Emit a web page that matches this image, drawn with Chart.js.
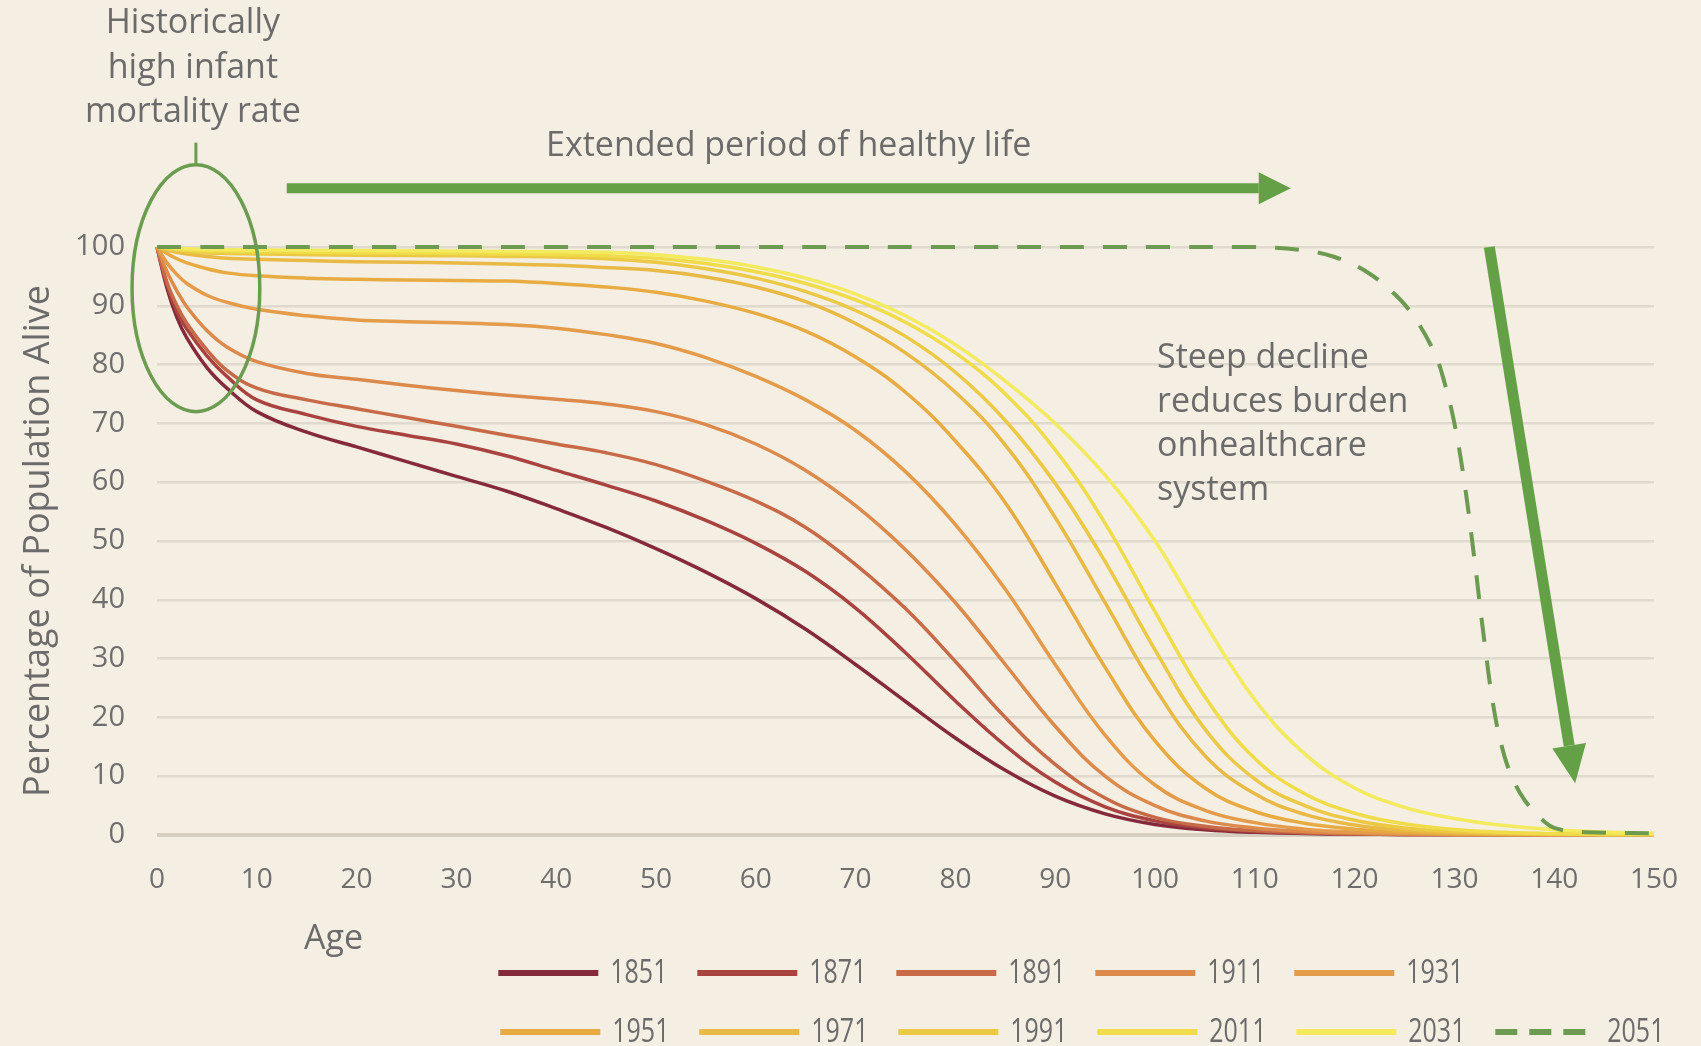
<!DOCTYPE html>
<html>
<head>
<meta charset="utf-8">
<script src="https://cdn.jsdelivr.net/npm/chart.js@4.4.1/dist/chart.umd.min.js"></script>
<style>
  html, body { margin: 0; padding: 0; background: #f4eee3; }
  #wrap { width: 1701px; height: 1046px; }
</style>
</head>
<body>
<div id="wrap"><canvas id="chart" width="1701" height="1046"></canvas></div>
<script>
// ages shared by the historic cohorts
const ages = [0, 1, 2, 3, 5, 7, 10, 15, 20, 25, 30, 35, 40, 45, 50, 55, 60, 65, 70, 75,
  80, 85, 90, 95, 100, 105, 110, 115, 120, 125, 130, 135, 140, 145, 150];

const years = ['1851', '1871', '1891', '1911', '1931', '1951', '1971', '1991', '2011', '2031', '2051'];

// percentage of population alive, per cohort
const s1851 = [100, 93, 88, 84.5, 79.5, 76, 72, 68.5, 66, 63.5, 61, 58.5, 55.5, 52.3, 48.7, 44.7, 40.2, 35, 29, 22.7,
  16.5, 11, 6.6, 3.6, 1.8, 0.9, 0.45, 0.25, 0.15, 0.1, 0.1, 0.1, 0.1, 0.1, 0.1];
const s1871 = [100, 93.5, 89, 86, 81.5, 78, 74, 71.5, 69.5, 68, 66.5, 64.5, 62, 59.5, 56.8, 53.5, 49.6, 44.8, 38.6, 31,
  22.8, 15.2, 9, 4.8, 2.4, 1.2, 0.6, 0.35, 0.2, 0.1, 0.1, 0.1, 0.1, 0.1, 0.1];
const s1891 = [100, 94, 90, 87, 82.5, 79, 76, 74, 72.5, 71, 69.5, 68, 66.5, 65, 63, 60.2, 56.8, 52.3, 46, 38.5,
  29.5, 20, 12, 6.3, 3, 1.5, 0.75, 0.4, 0.2, 0.1, 0.1, 0.1, 0.1, 0.1, 0.1];
const s1911 = [100, 95.8, 92.5, 89.8, 85.8, 83, 80.5, 78.5, 77.5, 76.5, 75.6, 74.8, 74.1, 73.3, 72, 69.8, 66.5, 62, 56, 48.5,
  39.5, 29, 18.5, 10, 5, 2.4, 1.2, 0.6, 0.3, 0.15, 0.1, 0.1, 0.1, 0.1, 0.1];
const s1931 = [100, 97.3, 95.3, 93.8, 91.8, 90.6, 89.4, 88.3, 87.6, 87.3, 87.1, 86.8, 86.2, 85.1, 83.6, 81.2, 78, 74, 68.8, 61.8,
  52.8, 41.8, 29, 17, 8.5, 4.2, 2.1, 1, 0.5, 0.25, 0.1, 0.1, 0.1, 0.1, 0.1];
const s1951 = [100, 98.9, 98, 97.3, 96.3, 95.6, 95.1, 94.7, 94.5, 94.4, 94.3, 94.2, 93.8, 93.2, 92.3, 90.8, 88.7, 85.7, 81.3, 75.3,
  67, 56.5, 42.8, 28.5, 16, 8, 4, 2, 1, 0.5, 0.25, 0.1, 0.1, 0.1, 0.1];
const s1971 = [100, 99.5, 99.1, 98.8, 98.4, 98.1, 97.9, 97.7, 97.5, 97.4, 97.3, 97.1, 96.9, 96.5, 96, 94.9, 93.2, 90.7, 87, 82,
  75.3, 66.3, 54, 39.5, 25, 13.5, 7, 3.5, 1.7, 0.8, 0.4, 0.2, 0.1, 0.1, 0.1];
const s1991 = [100, 99.7, 99.4, 99.2, 99, 98.9, 98.8, 98.7, 98.6, 98.55, 98.5, 98.4, 98.3, 98, 97.4, 96.3, 94.7, 92.4, 89.2, 84.8,
  78.7, 70.5, 59.8, 46.5, 31.5, 18, 9.5, 5, 2.5, 1.2, 0.6, 0.3, 0.15, 0.1, 0.1];
const s2011 = [100, 99.8, 99.6, 99.5, 99.3, 99.25, 99.2, 99.1, 99, 98.95, 98.9, 98.8, 98.7, 98.5, 98.1, 97.2, 95.8, 93.8, 91, 87.2,
  82, 75, 65.5, 53, 38, 23.5, 13, 7, 3.7, 1.9, 0.95, 0.45, 0.2, 0.1, 0.1];
const s2031 = [100, 99.9, 99.8, 99.7, 99.6, 99.55, 99.5, 99.45, 99.4, 99.35, 99.3, 99.25, 99.2, 99.1, 98.7, 97.9, 96.6, 94.7, 92, 88.3,
  83.4, 77.2, 70, 61.2, 50, 36, 23, 13.8, 8, 4.7, 2.8, 1.6, 0.9, 0.5, 0.3];

// projected 2051 cohort has its own age points (steep late drop)
const ages2051 = [0, 20, 40, 60, 80, 100, 110, 115, 118, 121, 124, 126, 128, 129, 130, 131, 132, 133, 134, 135,
  136, 137, 138, 139, 140, 142, 145, 150];
const s2051 = [100, 100, 100, 100, 100, 100, 100, 99.4, 98.3, 96, 92, 88, 82, 77, 70, 60, 47, 33, 21, 13.5,
  9, 6, 4, 2.3, 1.2, 0.6, 0.4, 0.3];

const yTicks = [0, 10, 20, 30, 40, 50, 60, 70, 80, 90, 100];
const xTicks = [0, 10, 20, 30, 40, 50, 60, 70, 80, 90, 100, 110, 120, 130, 140, 150];

const lineColors = ['#852a3a', '#a8433f', '#c66a48', '#dc894c', '#e49b4a', '#e8ab42',
  '#e8b944', '#ecc944', '#f0dc48', '#f3ea5e'];
const green = '#64a046';
const textGrey = '#6b6b6b';
const bg = '#f4eee3';
const FONT = "'Open Sans', 'DejaVu Sans', sans-serif";

const cohorts = [s1851, s1871, s1891, s1911, s1931, s1951, s1971, s1991, s2011, s2031];

const datasets = cohorts.map((vals, i) => ({
  label: years[i],
  data: ages.map((a, k) => ({ x: a, y: vals[k] })),
  borderColor: lineColors[i],
  borderWidth: 3.5,
  order: 10 - i,
}));
datasets.push({
  label: years[10],
  data: ages2051.map((a, k) => ({ x: a, y: s2051[k] })),
  borderColor: '#6c9a50',
  borderWidth: 4,
  borderDash: [24, 19],
  order: 0,
});

function arrow(ctx, x1, y1, x2, y2, w, head, half, color) {
  const ang = Math.atan2(y2 - y1, x2 - x1);
  const bx = x2 - head * Math.cos(ang), by = y2 - head * Math.sin(ang);
  ctx.save();
  ctx.strokeStyle = color;
  ctx.fillStyle = color;
  ctx.lineWidth = w;
  ctx.beginPath();
  ctx.moveTo(x1, y1);
  ctx.lineTo(bx, by);
  ctx.stroke();
  ctx.beginPath();
  ctx.moveTo(x2, y2);
  ctx.lineTo(bx + half * Math.sin(ang), by - half * Math.cos(ang));
  ctx.lineTo(bx - half * Math.sin(ang), by + half * Math.cos(ang));
  ctx.closePath();
  ctx.fill();
  ctx.restore();
}

const decor = {
  id: 'decor',
  beforeDraw(chart) {
    const { ctx } = chart;
    ctx.save();
    ctx.fillStyle = bg;
    ctx.fillRect(0, 0, chart.width, chart.height);
    ctx.restore();
  },
  afterDatasetsDraw(chart) {
    const { ctx } = chart;
    const xs = chart.scales.x, ys = chart.scales.y;
    const px = v => xs.getPixelForValue(v), py = v => ys.getPixelForValue(v);

    // infant mortality ellipse + stem
    const cx = px(3.9), cy = py(93);
    const rx = px(10.3) - cx, ry = cy - py(114);
    ctx.save();
    ctx.strokeStyle = '#6b9c4f';
    ctx.lineWidth = 3.5;
    ctx.beginPath();
    ctx.ellipse(cx, cy, rx, ry, 0, 0, Math.PI * 2);
    ctx.stroke();
    ctx.lineWidth = 3;
    ctx.beginPath();
    ctx.moveTo(cx, cy - ry);
    ctx.lineTo(cx, cy - ry - 22);
    ctx.stroke();
    ctx.restore();

    // arrows
    arrow(ctx, px(13), py(110), px(113.6), py(110), 10, 32, 16, green);
    arrow(ctx, px(133.5), py(100), px(142.1), py(8.8), 11, 38, 17, green);

    // annotation texts
    ctx.save();
    ctx.fillStyle = textGrey;
    ctx.font = '34px ' + FONT;
    ctx.textBaseline = 'middle';
    ctx.textAlign = 'center';
    ['Historically', 'high infant', 'mortality rate'].forEach((t, i) => {
      ctx.fillText(t, px(3.6), py(138) + i * 44.5);
    });
    ctx.fillText('Extended period of healthy life', px(63.3), py(117.2));
    ctx.textAlign = 'left';
    ['Steep decline', 'reduces burden', 'onhealthcare', 'system'].forEach((t, i) => {
      ctx.fillText(t, px(100.2), py(81.1) + i * 44);
    });
    ctx.restore();
  },
  afterDraw(chart) {
    const { ctx, chartArea } = chart;
    const xs = chart.scales.x;
    ctx.save();
    ctx.fillStyle = textGrey;
    ctx.font = '34px ' + FONT;
    ctx.textAlign = 'center';
    ctx.textBaseline = 'middle';
    ctx.fillText('Age', xs.getPixelForValue(17.7), chartArea.bottom + 104);

    // two-row legend: 5 cohorts then 6
    const x0 = xs.getPixelForValue(34.2);
    chart.data.datasets.forEach((ds, i) => {
      const row = i < 5 ? 0 : 1;
      const col = i < 5 ? i : i - 5;
      const lx = x0 + col * 199 + (row ? 2 : 0);
      const ly = chartArea.bottom + (row ? 197 : 138);
      ctx.save();
      ctx.strokeStyle = ds.borderColor;
      ctx.lineWidth = 6;
      ctx.setLineDash(ds.borderDash ? [22, 12] : []);
      ctx.beginPath();
      ctx.moveTo(lx, ly);
      ctx.lineTo(lx + 100, ly);
      ctx.stroke();
      ctx.restore();
      ctx.save();
      ctx.translate(lx + 112, ly);
      ctx.scale(0.78, 1);
      ctx.textAlign = 'left';
      ctx.font = '32px ' + FONT;
      ctx.fillStyle = textGrey;
      ctx.fillText(ds.label, 0, 1);
      ctx.restore();
    });
    ctx.restore();
  }
};

new Chart(document.getElementById('chart'), {
  type: 'line',
  data: { datasets },
  options: {
    responsive: false,
    animation: false,
    devicePixelRatio: 1,
    events: [],
    layout: { padding: { left: 0, right: 47, top: 247, bottom: 0 } },
    elements: {
      point: { radius: 0 },
      line: { tension: 0.4, fill: false },
    },
    datasets: { line: { clip: false } },
    scales: {
      x: {
        type: 'linear',
        min: 0,
        max: 150,
        afterFit: s => { s.height = 211; },
        afterBuildTicks: s => { s.ticks = xTicks.map(v => ({ value: v })); },
        grid: { display: false },
        border: { display: false },
        ticks: { color: '#6e6e6e', font: { family: FONT, size: 28 }, padding: 20, maxRotation: 0, autoSkip: false },
      },
      y: {
        min: 0,
        max: 100,
        afterFit: s => { s.width = 157; },
        afterBuildTicks: s => { s.ticks = yTicks.map(v => ({ value: v })); },
        grid: {
          drawTicks: false,
          color: c => c.tick && c.tick.value === 0 ? '#d6cec1' : '#e0d9cd',
          lineWidth: c => c.tick && c.tick.value === 0 ? 4 : 2.5,
        },
        border: { display: false },
        ticks: { color: '#6e6e6e', font: { family: FONT, size: 29 }, padding: 32 },
        title: {
          display: true,
          text: 'Percentage of Population Alive',
          color: textGrey,
          font: { family: FONT, size: 36 },
          padding: { top: 17, bottom: 0 },
        },
      },
    },
    plugins: {
      legend: { display: false },
      tooltip: { enabled: false },
    },
  },
  plugins: [decor],
});
</script>
</body>
</html>
